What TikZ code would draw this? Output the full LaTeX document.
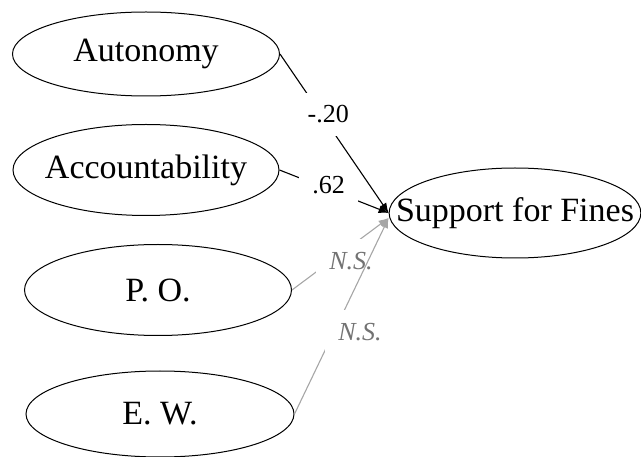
\documentclass[tikz,border=0pt]{standalone}
\usepackage{fontspec}
\setmainfont{Liberation Serif}
\usetikzlibrary{shapes.geometric, arrows.meta}

\begin{document}
\begin{tikzpicture}[x=1pt, y=-1pt, ->, >={Latex[length=10pt, width=8pt]}, line width=1.1pt]
				\tikzstyle{factor}=[ellipse, draw=black, line width=1pt, inner xsep=-30pt, inner ysep=0pt, font=\fontsize{34}{40}\selectfont]
				\tikzstyle{coef}=[fill=white, inner sep=13pt, text=black, font=\fontsize{26}{30}\selectfont]
				\tikzstyle{ns}=[coef, text=black!55, font=\fontsize{26}{30}\selectfont\itshape]
				\useasboundingbox (0, 0) rectangle (641, 457);
				
				\node[factor, minimum width=267pt, minimum height=84pt] at (146, 54)  (auto)  {Autonomy};
				\node[factor, minimum width=266pt, minimum height=91pt] at (146, 170)  (acc)  {Accountability};
				\node[factor, minimum width=267pt, minimum height=91pt] at (158, 290) (po)  {P. O.};
				\node[factor, minimum width=268pt, minimum height=86pt] at (160, 414) (ew)  {E. W.};
				\node[factor, minimum width=250pt, minimum height=90pt] at (515, 213) (sup)  {Support for Fines};
				
				\path
                (po.east) edge[draw=black!35] node[ns, pos=0.61, yshift=-15pt]{N.S.} ([yshift=-5pt]sup.west)
        		(ew.east) edge[draw=black!35] node[ns, pos=0.42, xshift=26pt]{N.S.} ([yshift=-5pt]sup.west)
        		(acc.east) edge node[coef, pos=0.45, yshift=4pt]{.62} (sup.west)
                (auto.east) edge node[coef, pos=0.38, xshift=7pt]{-.20} (sup.west);
		  \end{tikzpicture}
\end{document}
